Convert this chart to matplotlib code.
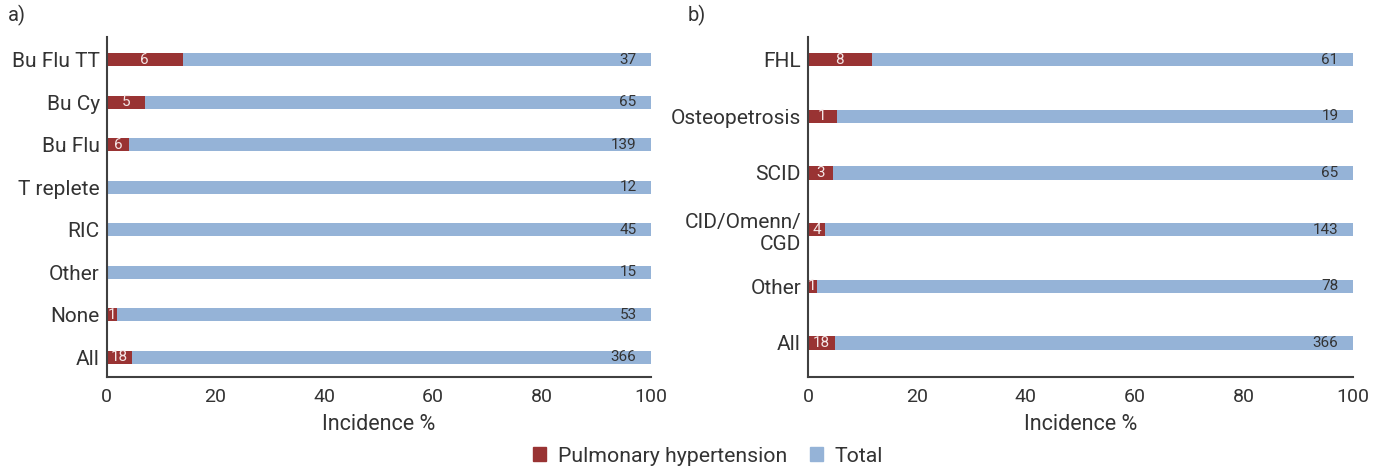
import matplotlib
matplotlib.use("Agg")
import matplotlib.pyplot as plt
from matplotlib.patches import Patch

plt.rcParams['font.family'] = ['Roboto', 'DejaVu Sans']

# ---- data ----
a_categories = ['Bu Flu TT', 'Bu Cy', 'Bu Flu', 'T replete', 'RIC', 'Other', 'None', 'All']
a_ph_pct = [14.0, 7.0, 4.1, 0.0, 0.0, 0.0, 1.9, 4.6]
a_ph_n = [6, 5, 6, None, None, None, 1, 18]
a_total_n = [37, 65, 139, 12, 45, 15, 53, 366]

b_categories = ['FHL', 'Osteopetrosis', 'SCID', 'CID/Omenn/\nCGD', 'Other', 'All']
b_ph_pct = [11.7, 5.3, 4.6, 3.1, 1.6, 4.9]
b_ph_n = [8, 1, 3, 4, 1, 18]
b_total_n = [61, 19, 65, 143, 78, 366]

x_ticks = [0, 20, 40, 60, 80, 100]

RED = '#993333'
BLUE = '#95B3D7'
TXT = '#333333'
SPINE = '#404040'

fig = plt.figure(figsize=(13.86, 4.70), dpi=100)

def panel(rect, cats, ph, phn, totn, height, ylim, tag, tagx):
    ax = fig.add_axes(rect)
    n = len(cats)
    ys = [n - 1 - i for i in range(n)]
    rest = [100 - p for p in ph]
    ax.barh(ys, ph, height=height, color=RED, linewidth=0)
    ax.barh(ys, rest, left=ph, height=height, color=BLUE, linewidth=0)
    for y, p, k, t in zip(ys, ph, phn, totn):
        if k is not None:
            ax.text(p / 2, y, str(k), ha='center', va='center', color='#f4e6e6', fontsize=11)
        ax.text(97.4, y, str(t), ha='right', va='center', color=TXT, fontsize=11)
    ax.set_yticks(ys)
    ax.set_yticklabels(cats, fontsize=15, color=TXT)
    ax.set_xticks(x_ticks)
    ax.set_xticklabels([str(v) for v in x_ticks], fontsize=14, color=TXT)
    ax.set_xlim(0, 100)
    ax.set_ylim(*ylim)
    ax.tick_params(axis='both', length=0)
    ax.tick_params(axis='y', pad=5)
    ax.tick_params(axis='x', pad=8)
    for s in ('top', 'right'):
        ax.spines[s].set_visible(False)
    for s in ('left', 'bottom'):
        ax.spines[s].set_color(SPINE)
        ax.spines[s].set_linewidth(1.5)
    ax.set_xlabel('Incidence %', fontsize=15.5, color=TXT, labelpad=6)
    fig.text(tagx, 1 - 15 / 470, tag, fontsize=14.5, color=TXT, ha='left', va='center')
    return ax

panel([106.7 / 1386, 1 - 377 / 470, 544 / 1386, 340 / 470],
      a_categories, a_ph_pct, a_ph_n, a_total_n, 0.305, (-0.46, 7.53), 'a)', 8 / 1386)
panel([808 / 1386, 1 - 377 / 470, 544.7 / 1386, 340 / 470],
      b_categories, b_ph_pct, b_ph_n, b_total_n, 0.23, (-0.6, 5.4), 'b)', 688 / 1386)

handles = [Patch(color=RED, label='Pulmonary hypertension'), Patch(color=BLUE, label='Total')]
fig.legend(handles=handles, loc='center', bbox_to_anchor=(0.511, 1 - 456 / 470), ncol=2,
           frameon=False, fontsize=15.3, handlelength=0.6, handleheight=0.6,
           columnspacing=1.1, handletextpad=0.55, labelcolor=TXT)

fig.savefig('out.png', dpi=100)
